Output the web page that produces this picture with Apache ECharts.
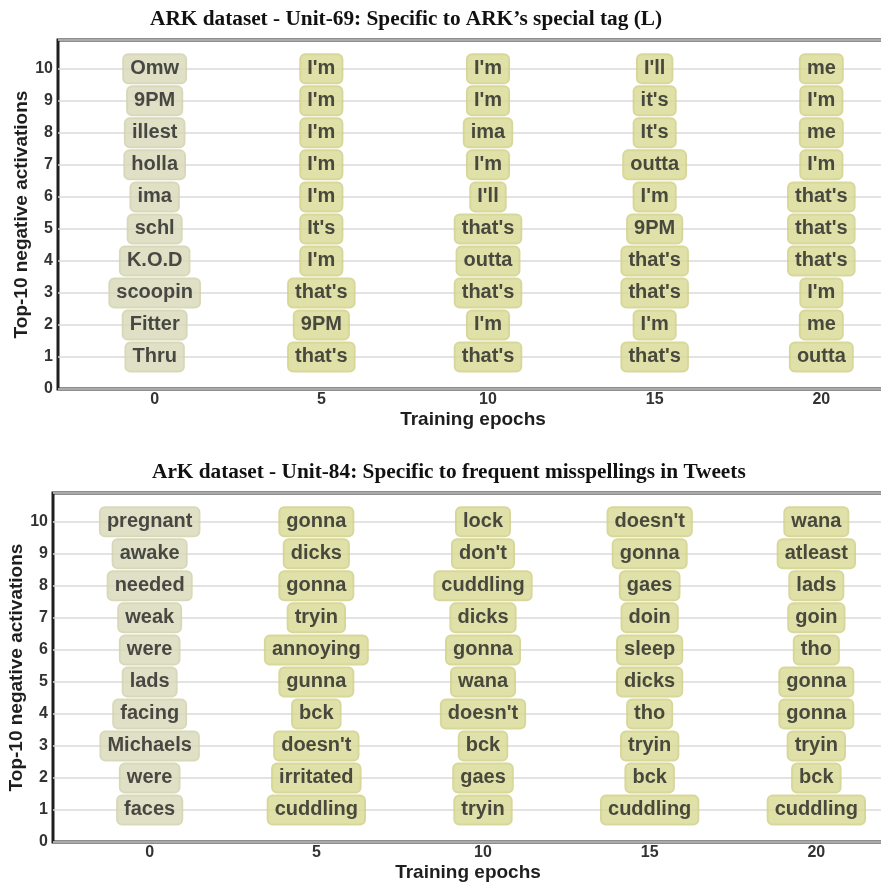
<!DOCTYPE html>
<html>
<head>
<meta charset="utf-8">
<script src="https://cdn.jsdelivr.net/npm/echarts@6/dist/echarts.min.js"></script>
<style>
  html, body { margin: 0; padding: 0; background: #fff; }
  #chart { width: 881px; height: 883px; }
</style>
</head>
<body>
<div id="chart"></div>
<script>
// Training epochs at which the top activating words were collected
const epochs = [0, 5, 10, 15, 20];
// Rank of each word, listed top (10) to bottom (1)
const ranks = [10, 9, 8, 7, 6, 5, 4, 3, 2, 1];
const xTickValues = [0, 5, 10, 15, 20];

const titleUnit69 = 'ARK dataset - Unit-69: Specific to ARK’s special tag (L)';
const titleUnit84 = 'ArK dataset - Unit-84: Specific to frequent misspellings in Tweets';
const xAxisTitle = 'Training epochs';
const yAxisTitle = 'Top-10 negative activations';

// Words per epoch, ordered from rank 10 down to rank 1
const unit69Words = [
  ['Omw', '9PM', 'illest', 'holla', 'ima', 'schl', 'K.O.D', 'scoopin', 'Fitter', 'Thru'],
  ["I'm", "I'm", "I'm", "I'm", "I'm", "It's", "I'm", "that's", '9PM', "that's"],
  ["I'm", "I'm", 'ima', "I'm", "I'll", "that's", 'outta', "that's", "I'm", "that's"],
  ["I'll", "it's", "It's", 'outta', "I'm", '9PM', "that's", "that's", "I'm", "that's"],
  ['me', "I'm", 'me', "I'm", "that's", "that's", "that's", "I'm", 'me', 'outta']
];
const unit84Words = [
  ['pregnant', 'awake', 'needed', 'weak', 'were', 'lads', 'facing', 'Michaels', 'were', 'faces'],
  ['gonna', 'dicks', 'gonna', 'tryin', 'annoying', 'gunna', 'bck', "doesn't", 'irritated', 'cuddling'],
  ['lock', "don't", 'cuddling', 'dicks', 'gonna', 'wana', "doesn't", 'bck', 'gaes', 'tryin'],
  ["doesn't", 'gonna', 'gaes', 'doin', 'sleep', 'dicks', 'tho', 'tryin', 'bck', 'cuddling'],
  ['wana', 'atleast', 'lads', 'goin', 'tho', 'gonna', 'gonna', 'tryin', 'bck', 'cuddling']
];

const SANS = '"Liberation Sans", Arial, sans-serif';
const SERIF = '"Liberation Serif", "Times New Roman", serif';
const boxInitial = { bg: '#d8d8b9', border: '#cfcfa9' };
const boxTrained = { bg: '#d8d894', border: '#cdcd84' };

function wordItems(words) {
  const items = [];
  epochs.forEach((ep, ei) => {
    const style = ei === 0 ? boxInitial : boxTrained;
    ranks.forEach((r, ri) => {
      items.push({
        value: [ep, r],
        name: words[ei][ri],
        label: { backgroundColor: style.bg, borderColor: style.border }
      });
    });
  });
  return items;
}

const panels = [
  { title: titleUnit69, words: unit69Words, titleLeft: 150, titleTop: 9, gridLeft: 58, gridTop: 40 },
  { title: titleUnit84, words: unit84Words, titleLeft: 152, titleTop: 462, gridLeft: 53, gridTop: 493 }
];

const option = {
  animation: false,
  backgroundColor: '#fff',
  title: panels.map(p => ({
    text: p.title,
    left: p.titleLeft,
    top: p.titleTop,
    padding: 0,
    textStyle: { fontFamily: SERIF, fontWeight: 'bold', fontSize: 21.3, color: '#111' }
  })),
  grid: panels.map(p => ({
    left: p.gridLeft,
    top: p.gridTop,
    width: 830,
    height: 349,
    show: true,
    borderColor: '#1e1e1e',
    borderWidth: 3,
    backgroundColor: 'transparent',
    containLabel: false,
    outerBoundsMode: 'none'
  })),
  xAxis: panels.map((p, i) => ({
    type: 'value',
    gridIndex: i,
    min: -2.9,
    max: 22,
    name: xAxisTitle,
    nameLocation: 'middle',
    nameGap: 21,
    nameMoveOverlap: false,
    nameTextStyle: { fontFamily: SANS, fontWeight: 'bold', fontSize: 19, color: '#1e1e1e' },
    axisLine: { show: false },
    axisTick: { show: false },
    splitLine: { show: false },
    axisLabel: {
      customValues: xTickValues,
      margin: 3,
      fontFamily: SANS, fontWeight: 'bold', fontSize: 16, color: '#333'
    }
  })),
  yAxis: panels.map((p, i) => ({
    type: 'value',
    gridIndex: i,
    min: 0,
    max: 10.9,
    interval: 1,
    name: yAxisTitle,
    nameLocation: 'middle',
    nameGap: 27,
    nameMoveOverlap: false,
    nameTextStyle: { fontFamily: SANS, fontWeight: 'bold', fontSize: 19, color: '#1e1e1e' },
    axisLine: { show: false },
    axisTick: { show: false },
    splitLine: { show: true, lineStyle: { color: '#dadada', width: 1.5 } },
    axisLabel: {
      showMaxLabel: false,
      margin: 5,
      fontFamily: SANS, fontWeight: 'bold', fontSize: 16, color: '#333'
    }
  })),
  series: panels.map((p, i) => ({
    type: 'scatter',
    xAxisIndex: i,
    yAxisIndex: i,
    symbolSize: 1,
    itemStyle: { color: 'rgba(0,0,0,0)' },
    label: {
      show: true,
      position: 'inside',
      formatter: '{b}',
      fontFamily: SANS,
      fontWeight: 'bold',
      fontSize: 20,
      lineHeight: 20,
      color: '#222',
      borderWidth: 1,
      borderRadius: 5,
      padding: [5, 7, 4, 7]
    },
    emphasis: { disabled: true },
    data: wordItems(p.words)
  }))
};

const chart = echarts.init(document.getElementById('chart'), null, { renderer: 'canvas' });
chart.setOption(option);
</script>
</body>
</html>
